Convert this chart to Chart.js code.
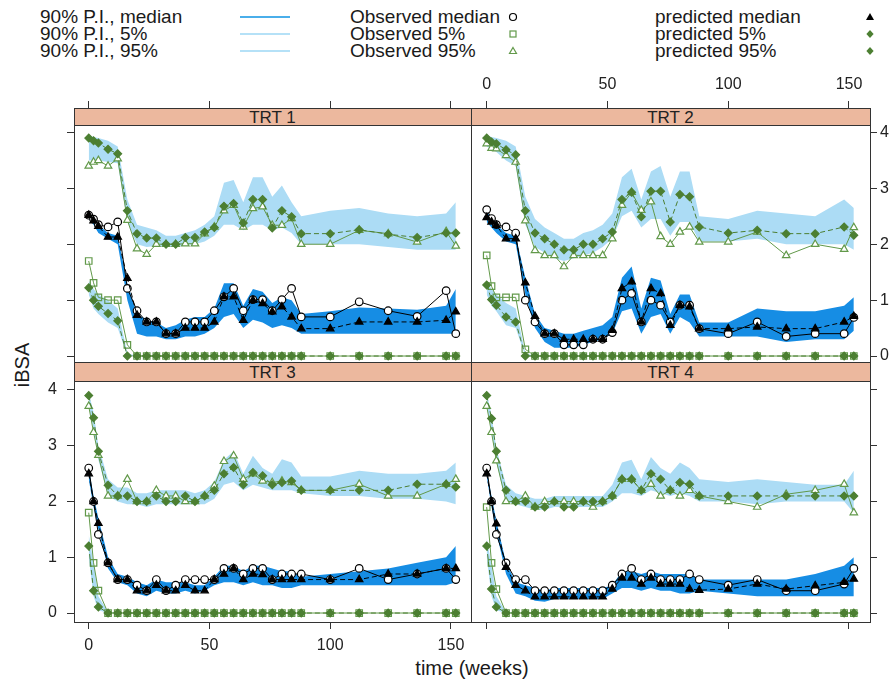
<!DOCTYPE html>
<html>
<head>
<meta charset="utf-8">
<title>iBSA VPC by treatment</title>
<script src="https://cdn.jsdelivr.net/npm/chart.js@4.4.1/dist/chart.umd.min.js"></script>
<style>
  body { margin: 0; background: #fff; }
  #wrap { position: relative; width: 895px; height: 690px; overflow: hidden;
          font-family: "Liberation Sans", Arial, sans-serif; color: #1a1a1a; }
  canvas { position: absolute; left: 0; top: 0; z-index: 2; }
  .strip { position: absolute; background: #ecb89e; border-bottom: 1px solid #333;
           text-align: center; font-size: 17px; overflow: hidden; z-index: 1; color: #222; }
  .key { position: absolute; font-size: 19px; line-height: 20px; white-space: nowrap; }
  #keySym { position: absolute; left: 0; top: 0; z-index: 1; }
  .axTitle { position: absolute; font-size: 20px; white-space: nowrap; }
</style>
</head>
<body>
<div id="wrap">
  <svg id="keySym" width="895" height="66"></svg>

  <div class="key" style="left:40px;top:7px">90% P.I., median</div>
  <div class="key" style="left:40px;top:24px">90% P.I., 5%</div>
  <div class="key" style="left:40px;top:41px">90% P.I., 95%</div>
  <div class="key" style="left:350px;top:7px">Observed median</div>
  <div class="key" style="left:350px;top:24px">Observed 5%</div>
  <div class="key" style="left:350px;top:41px">Observed 95%</div>
  <div class="key" style="left:655px;top:7px">predicted median</div>
  <div class="key" style="left:655px;top:24px">predicted 5%</div>
  <div class="key" style="left:655px;top:41px">predicted 95%</div>

  <div class="strip" style="left:74px;top:109px;width:397px;height:16px;line-height:18px">TRT 1</div>
  <div class="strip" style="left:471px;top:109px;width:399px;height:16px;line-height:18px">TRT 2</div>
  <div class="strip" style="left:74px;top:363px;width:397px;height:18px;line-height:20px">TRT 3</div>
  <div class="strip" style="left:471px;top:363px;width:399px;height:18px;line-height:20px">TRT 4</div>

  <div class="axTitle" style="left:22px;top:365px;transform:translate(-50%,-50%) rotate(-90deg)">iBSA</div>
  <div class="axTitle" style="left:472px;top:668px;transform:translate(-50%,-50%)">time (weeks)</div>

  <canvas id="c1" width="895" height="690"></canvas>
  <canvas id="c2" width="895" height="690"></canvas>
  <canvas id="c3" width="895" height="690"></canvas>
  <canvas id="c4" width="895" height="690"></canvas>
</div>

<script>
const weeks = [0, 2, 4, 8, 12, 16, 20, 24, 28, 32, 36, 40, 44, 48, 52, 56, 60, 64, 68, 72, 76, 80, 84, 88, 100, 112, 124, 136, 148, 152];
const xTicks = [0, 50, 100, 150];
const yTicks = [0, 1, 2, 3, 4];

// TRT 1
const trt1ObsMedian = [2.52, 2.45, 2.35, 2.31, 2.4, 1.21, 0.81, 0.61, 0.61, 0.4, 0.4, 0.61, 0.61, 0.61, 0.81, 1.06, 1.21, 0.81, 1.01, 1.01, 0.81, 1.01, 1.21, 0.7, 0.7, 0.97, 0.81, 0.71, 1.17, 0.4];
const trt1Obs5 = [1.7, 1.31, 1.05, 1.0, 1.0, 0.2, 0, 0, 0, 0, 0, 0, 0, 0, 0, 0, 0, 0, 0, 0, 0, 0, 0, 0, 0, 0, 0, 0, 0, 0];
const trt1Obs95 = [3.4, 3.47, 3.5, 3.4, 3.53, 2.43, 1.92, 1.82, 2.0, 2.0, 2.0, 2.01, 2.01, 2.19, 2.31, 2.6, 2.7, 2.31, 2.64, 2.67, 2.34, 2.34, 2.46, 2.0, 2.0, 2.25, 2.19, 2.04, 2.23, 1.97];
const trt1PredMedian = [2.52, 2.42, 2.32, 2.13, 2.13, 1.39, 0.73, 0.61, 0.61, 0.4, 0.4, 0.5, 0.5, 0.5, 0.61, 1.06, 1.06, 0.64, 1.0, 0.94, 0.79, 0.88, 0.7, 0.49, 0.49, 0.61, 0.61, 0.61, 0.64, 0.79];
const trt1Pred5 = [1.22, 1.0, 0.89, 0.76, 0.63, 0, 0, 0, 0, 0, 0, 0, 0, 0, 0, 0, 0, 0, 0, 0, 0, 0, 0, 0, 0, 0, 0, 0, 0, 0];
const trt1Pred95 = [3.9, 3.85, 3.81, 3.7, 3.62, 2.6, 2.19, 2.11, 2.11, 2.0, 2.0, 2.12, 2.12, 2.22, 2.3, 2.68, 2.73, 2.38, 2.8, 2.8, 2.29, 2.6, 2.49, 2.19, 2.19, 2.26, 2.18, 2.12, 2.2, 2.2];
const trt1PiMedHi = [2.55, 2.48, 2.35, 2.2, 2.15, 1.3, 0.75, 0.65, 0.6, 0.5, 0.55, 0.65, 0.7, 0.7, 0.85, 1.3, 1.3, 0.9, 1.2, 1.15, 0.95, 1.05, 1.0, 0.75, 0.8, 0.87, 0.85, 0.83, 0.9, 1.2];
const trt1PiMedLo = [2.45, 2.35, 2.2, 2.1, 2.0, 1.0, 0.4, 0.35, 0.35, 0.3, 0.3, 0.35, 0.35, 0.4, 0.5, 0.7, 0.75, 0.5, 0.65, 0.6, 0.5, 0.55, 0.5, 0.4, 0.4, 0.4, 0.4, 0.4, 0.4, 0.4];
const trt1Pi5Hi = [1.35, 1.2, 1.1, 1.0, 0.85, 0.05, 0, 0, 0, 0, 0, 0, 0, 0, 0, 0, 0, 0, 0, 0, 0, 0, 0, 0, 0, 0, 0, 0, 0, 0];
const trt1Pi5Lo = [1.1, 0.85, 0.75, 0.6, 0.5, 0, 0, 0, 0, 0, 0, 0, 0, 0, 0, 0, 0, 0, 0, 0, 0, 0, 0, 0, 0, 0, 0, 0, 0, 0];
const trt1Pi95Hi = [3.95, 3.92, 3.9, 3.85, 3.75, 2.8, 2.35, 2.3, 2.25, 2.15, 2.15, 2.2, 2.25, 2.35, 2.5, 3.1, 3.15, 2.75, 3.2, 3.2, 2.85, 3.05, 2.75, 2.5, 2.6, 2.65, 2.55, 2.5, 2.55, 2.75];
const trt1Pi95Lo = [3.5, 3.5, 3.5, 3.47, 3.45, 2.4, 2.0, 1.95, 1.97, 1.95, 1.95, 1.98, 2.0, 2.05, 2.15, 2.35, 2.35, 2.25, 2.35, 2.35, 2.25, 2.3, 2.2, 2.0, 2.0, 2.0, 1.95, 1.9, 1.9, 1.9];

// TRT 2
const trt2ObsMedian = [2.62, 2.46, 2.35, 2.31, 2.2, 1.0, 0.61, 0.4, 0.4, 0.2, 0.2, 0.2, 0.3, 0.3, 0.42, 1.0, 1.12, 0.61, 1.0, 0.91, 0.61, 0.91, 0.91, 0.49, 0.4, 0.61, 0.35, 0.4, 0.4, 0.69];
const trt2Obs5 = [1.8, 1.25, 1.05, 1.05, 1.05, 0.12, 0, 0, 0, 0, 0, 0, 0, 0, 0, 0, 0, 0, 0, 0, 0, 0, 0, 0, 0, 0, 0, 0, 0, 0];
const trt2Obs95 = [3.8, 3.72, 3.71, 3.59, 3.47, 2.42, 1.89, 1.8, 1.8, 1.6, 1.8, 1.8, 1.8, 1.8, 2.1, 2.7, 2.93, 2.61, 2.76, 2.14, 2.0, 2.22, 2.31, 2.04, 2.04, 2.22, 1.8, 2.0, 1.91, 2.3];
const trt2PredMedian = [2.48, 2.4, 2.34, 2.1, 2.1, 1.31, 0.71, 0.4, 0.4, 0.3, 0.3, 0.3, 0.3, 0.3, 0.46, 1.21, 1.33, 0.61, 1.21, 1.12, 0.55, 0.91, 0.88, 0.49, 0.49, 0.52, 0.49, 0.49, 0.61, 0.71];
const trt2Pred5 = [1.27, 1.01, 0.91, 0.7, 0.61, 0, 0, 0, 0, 0, 0, 0, 0, 0, 0, 0, 0, 0, 0, 0, 0, 0, 0, 0, 0, 0, 0, 0, 0, 0];
const trt2Pred95 = [3.9, 3.83, 3.8, 3.69, 3.6, 2.6, 2.2, 2.1, 2.0, 1.9, 1.9, 2.0, 2.0, 2.1, 2.22, 2.8, 2.93, 2.49, 2.95, 2.95, 2.4, 2.89, 2.85, 2.31, 2.2, 2.25, 2.19, 2.19, 2.31, 2.16];
const trt2PiMedHi = [2.6, 2.45, 2.35, 2.2, 2.15, 1.4, 0.75, 0.5, 0.45, 0.4, 0.4, 0.45, 0.5, 0.55, 0.7, 1.4, 1.6, 0.85, 1.4, 1.35, 0.75, 1.1, 1.1, 0.6, 0.6, 0.85, 0.8, 0.8, 0.9, 1.05];
const trt2PiMedLo = [2.4, 2.3, 2.2, 2.05, 2.0, 1.1, 0.5, 0.25, 0.15, 0.15, 0.15, 0.2, 0.25, 0.3, 0.4, 0.8, 0.85, 0.4, 0.7, 0.75, 0.4, 0.7, 0.6, 0.35, 0.35, 0.35, 0.25, 0.3, 0.3, 0.45];
const trt2Pi5Hi = [1.35, 1.2, 1.1, 0.95, 0.85, 0.05, 0, 0, 0, 0, 0, 0, 0, 0, 0, 0, 0, 0, 0, 0, 0, 0, 0, 0, 0, 0, 0, 0, 0, 0];
const trt2Pi5Lo = [1.1, 0.9, 0.8, 0.55, 0.5, 0, 0, 0, 0, 0, 0, 0, 0, 0, 0, 0, 0, 0, 0, 0, 0, 0, 0, 0, 0, 0, 0, 0, 0, 0];
const trt2Pi95Hi = [3.95, 3.92, 3.9, 3.85, 3.75, 2.85, 2.45, 2.3, 2.2, 2.1, 2.1, 2.2, 2.25, 2.35, 2.55, 3.2, 3.35, 2.8, 3.3, 3.4, 2.85, 3.3, 3.3, 2.5, 2.45, 2.6, 2.55, 2.5, 2.8, 2.65];
const trt2Pi95Lo = [3.75, 3.7, 3.65, 3.5, 3.4, 2.35, 1.95, 1.85, 1.75, 1.7, 1.75, 1.8, 1.85, 1.95, 2.1, 2.5, 2.6, 2.3, 2.45, 2.45, 2.15, 2.4, 2.4, 2.05, 2.05, 2.1, 2.0, 2.0, 2.0, 1.9];

// TRT 3
const trt3ObsMedian = [2.6, 2.0, 1.41, 0.9, 0.6, 0.6, 0.5, 0.4, 0.6, 0.4, 0.5, 0.6, 0.6, 0.6, 0.6, 0.8, 0.8, 0.7, 0.8, 0.8, 0.6, 0.7, 0.7, 0.7, 0.6, 0.8, 0.6, 0.7, 0.8, 0.6];
const trt3Obs5 = [1.8, 0.9, 0.4, 0, 0, 0, 0, 0, 0, 0, 0, 0, 0, 0, 0, 0, 0, 0, 0, 0, 0, 0, 0, 0, 0, 0, 0, 0, 0, 0];
const trt3Obs95 = [3.71, 3.24, 2.83, 2.1, 2.1, 2.4, 2.0, 2.0, 2.2, 2.1, 2.1, 2.0, 2.0, 2.1, 2.28, 2.72, 2.82, 2.4, 2.5, 2.37, 2.34, 2.37, 2.34, 2.2, 2.2, 2.31, 2.1, 2.1, 2.31, 2.4];
const trt3PredMedian = [2.5, 2.0, 1.61, 0.9, 0.6, 0.6, 0.4, 0.4, 0.5, 0.4, 0.4, 0.5, 0.4, 0.4, 0.6, 0.7, 0.8, 0.6, 0.7, 0.69, 0.6, 0.6, 0.6, 0.6, 0.6, 0.6, 0.7, 0.7, 0.8, 0.8];
const trt3Pred5 = [1.2, 0.4, 0.11, 0, 0, 0, 0, 0, 0, 0, 0, 0, 0, 0, 0, 0, 0, 0, 0, 0, 0, 0, 0, 0, 0, 0, 0, 0, 0, 0];
const trt3Pred95 = [3.9, 3.5, 2.9, 2.29, 2.1, 2.1, 2.0, 2.0, 2.1, 2.0, 2.0, 2.1, 2.0, 2.1, 2.2, 2.5, 2.61, 2.3, 2.52, 2.46, 2.3, 2.34, 2.37, 2.2, 2.2, 2.2, 2.2, 2.31, 2.31, 2.26];
const trt3PiMedHi = [2.6, 2.1, 1.7, 1.0, 0.7, 0.65, 0.55, 0.5, 0.6, 0.55, 0.55, 0.55, 0.5, 0.5, 0.65, 0.85, 0.85, 0.75, 0.85, 0.85, 0.8, 0.75, 0.75, 0.65, 0.7, 0.75, 0.8, 0.9, 1.0, 1.2];
const trt3PiMedLo = [2.4, 1.9, 1.5, 0.8, 0.55, 0.5, 0.35, 0.3, 0.4, 0.35, 0.35, 0.4, 0.35, 0.4, 0.5, 0.55, 0.55, 0.5, 0.55, 0.5, 0.5, 0.45, 0.45, 0.5, 0.5, 0.5, 0.5, 0.5, 0.5, 0.55];
const trt3Pi5Hi = [1.4, 0.9, 0.3, 0.02, 0, 0, 0, 0, 0, 0, 0, 0, 0, 0, 0, 0, 0, 0, 0, 0, 0, 0, 0, 0, 0, 0, 0, 0, 0, 0];
const trt3Pi5Lo = [1.0, 0.3, 0.05, 0, 0, 0, 0, 0, 0, 0, 0, 0, 0, 0, 0, 0, 0, 0, 0, 0, 0, 0, 0, 0, 0, 0, 0, 0, 0, 0];
const trt3Pi95Hi = [3.95, 3.6, 3.0, 2.4, 2.25, 2.25, 2.15, 2.15, 2.2, 2.2, 2.2, 2.2, 2.15, 2.2, 2.35, 2.75, 2.9, 2.5, 2.82, 2.6, 2.5, 2.76, 2.7, 2.45, 2.45, 2.55, 2.5, 2.5, 2.55, 2.7];
const trt3Pi95Lo = [3.7, 3.3, 2.75, 2.1, 2.0, 1.95, 1.95, 1.9, 1.95, 1.95, 1.95, 1.95, 1.95, 1.95, 2.05, 2.3, 2.35, 2.2, 2.3, 2.25, 2.2, 2.2, 2.2, 2.15, 2.1, 2.1, 2.05, 2.05, 2.0, 1.95];

// TRT 4
const trt4ObsMedian = [2.6, 2.0, 1.41, 0.9, 0.6, 0.6, 0.4, 0.4, 0.4, 0.4, 0.4, 0.4, 0.4, 0.4, 0.5, 0.7, 0.8, 0.6, 0.7, 0.6, 0.6, 0.6, 0.7, 0.6, 0.5, 0.6, 0.4, 0.4, 0.52, 0.8];
const trt4Obs5 = [1.9, 0.9, 0.43, 0, 0, 0, 0, 0, 0, 0, 0, 0, 0, 0, 0, 0, 0, 0, 0, 0, 0, 0, 0, 0, 0, 0, 0, 0, 0, 0];
const trt4Obs95 = [3.71, 3.24, 2.73, 2.0, 2.0, 2.1, 1.9, 2.0, 2.0, 2.0, 2.0, 2.0, 1.9, 2.0, 2.1, 2.4, 2.4, 2.2, 2.31, 2.1, 2.2, 2.1, 2.2, 2.1, 2.0, 1.9, 2.13, 2.2, 2.31, 1.8];
const trt4PredMedian = [2.5, 2.0, 1.6, 0.82, 0.5, 0.4, 0.29, 0.29, 0.29, 0.29, 0.29, 0.29, 0.29, 0.29, 0.43, 0.63, 0.63, 0.52, 0.63, 0.52, 0.52, 0.52, 0.43, 0.41, 0.43, 0.52, 0.43, 0.49, 0.55, 0.61];
const trt4Pred5 = [1.2, 0.43, 0.11, 0, 0, 0, 0, 0, 0, 0, 0, 0, 0, 0, 0, 0, 0, 0, 0, 0, 0, 0, 0, 0, 0, 0, 0, 0, 0, 0];
const trt4Pred95 = [3.9, 3.49, 2.9, 2.2, 2.0, 2.0, 1.9, 1.9, 2.0, 1.9, 1.9, 2.0, 2.0, 2.0, 2.1, 2.4, 2.4, 2.2, 2.5, 2.4, 2.2, 2.34, 2.31, 2.1, 2.1, 2.1, 2.1, 2.1, 2.1, 2.1];
const trt4PiMedHi = [2.55, 2.1, 1.65, 0.9, 0.55, 0.5, 0.45, 0.4, 0.45, 0.45, 0.45, 0.45, 0.45, 0.45, 0.5, 0.75, 0.75, 0.7, 0.75, 0.7, 0.7, 0.7, 0.7, 0.6, 0.6, 0.6, 0.6, 0.7, 0.85, 1.0];
const trt4PiMedLo = [2.45, 1.9, 1.45, 0.7, 0.35, 0.3, 0.22, 0.2, 0.25, 0.25, 0.25, 0.25, 0.25, 0.25, 0.35, 0.45, 0.45, 0.4, 0.45, 0.4, 0.4, 0.35, 0.35, 0.4, 0.35, 0.3, 0.3, 0.3, 0.3, 0.3];
const trt4Pi5Hi = [1.35, 0.85, 0.3, 0.02, 0, 0, 0, 0, 0, 0, 0, 0, 0, 0, 0, 0, 0, 0, 0, 0, 0, 0, 0, 0, 0, 0, 0, 0, 0, 0];
const trt4Pi5Lo = [1.0, 0.3, 0.05, 0, 0, 0, 0, 0, 0, 0, 0, 0, 0, 0, 0, 0, 0, 0, 0, 0, 0, 0, 0, 0, 0, 0, 0, 0, 0, 0];
const trt4Pi95Hi = [3.95, 3.55, 2.95, 2.3, 2.15, 2.1, 2.05, 2.05, 2.1, 2.1, 2.1, 2.1, 2.1, 2.1, 2.3, 2.7, 2.75, 2.4, 2.8, 2.6, 2.5, 2.7, 2.6, 2.4, 2.35, 2.4, 2.35, 2.3, 2.3, 2.55];
const trt4Pi95Lo = [3.7, 3.3, 2.7, 2.0, 1.95, 1.9, 1.85, 1.85, 1.9, 1.9, 1.9, 1.9, 1.9, 1.9, 2.0, 2.15, 2.15, 2.1, 2.2, 2.15, 2.1, 2.15, 2.1, 2.0, 2.0, 1.95, 2.0, 2.0, 2.0, 1.8];

const darkBlue = "#168de4";
const lightBlue = "#acdcf5";
const predGreen = "#4c7f32";
const obsGreen = "#62994a";
const frameColor = "#333";
const tickFont = { family: "Liberation Sans", size: 16 };

// plot area of each column / row, in page pixels, with the value range it covers
const columns = [
  { left: 74, right: 471, min: -6.1, max: 158.3 },
  { left: 471, right: 870, min: -6.5, max: 158.7 }
];
const rows = [
  { top: 108, bottom: 362, min: -0.107, max: 4.438 },
  { top: 362, bottom: 622, min: -0.161, max: 4.502 }
];

const panels = [
  { id: "c1", col: 0, row: 0, axes: { left: "ticks", top: "ticks", right: "none", bottom: "none" },
    obsMedian: trt1ObsMedian, obs5: trt1Obs5, obs95: trt1Obs95,
    predMedian: trt1PredMedian, pred5: trt1Pred5, pred95: trt1Pred95,
    piMed: [trt1PiMedHi, trt1PiMedLo], pi5: [trt1Pi5Hi, trt1Pi5Lo], pi95: [trt1Pi95Hi, trt1Pi95Lo] },
  { id: "c2", col: 1, row: 0, axes: { left: "none", top: "labels", right: "labels", bottom: "none" },
    obsMedian: trt2ObsMedian, obs5: trt2Obs5, obs95: trt2Obs95,
    predMedian: trt2PredMedian, pred5: trt2Pred5, pred95: trt2Pred95,
    piMed: [trt2PiMedHi, trt2PiMedLo], pi5: [trt2Pi5Hi, trt2Pi5Lo], pi95: [trt2Pi95Hi, trt2Pi95Lo] },
  { id: "c3", col: 0, row: 1, axes: { left: "labels", top: "none", right: "none", bottom: "labels" },
    obsMedian: trt3ObsMedian, obs5: trt3Obs5, obs95: trt3Obs95,
    predMedian: trt3PredMedian, pred5: trt3Pred5, pred95: trt3Pred95,
    piMed: [trt3PiMedHi, trt3PiMedLo], pi5: [trt3Pi5Hi, trt3Pi5Lo], pi95: [trt3Pi95Hi, trt3Pi95Lo] },
  { id: "c4", col: 1, row: 1, axes: { left: "none", top: "none", right: "ticks", bottom: "ticks" },
    obsMedian: trt4ObsMedian, obs5: trt4Obs5, obs95: trt4Obs95,
    predMedian: trt4PredMedian, pred5: trt4Pred5, pred95: trt4Pred95,
    piMed: [trt4PiMedHi, trt4PiMedLo], pi5: [trt4Pi5Hi, trt4Pi5Lo], pi95: [trt4Pi95Hi, trt4Pi95Lo] }
];

function pts(arr) {
  return weeks.map((w, i) => ({ x: w, y: arr[i] }));
}

function band(pair, color) {
  return [
    { data: pts(pair[0]), borderColor: "rgba(0,0,0,0)", borderWidth: 0, pointRadius: 0, fill: false, order: 30 },
    { data: pts(pair[1]), borderColor: "rgba(0,0,0,0)", borderWidth: 0, pointRadius: 0, fill: "-1", backgroundColor: color, order: 30 }
  ];
}

function series(arr, color, shape, radius, fillColor, dashed, order) {
  return {
    data: pts(arr),
    borderColor: color,
    borderWidth: 1,
    borderDash: dashed ? [5, 3] : [],
    pointStyle: shape,
    pointRadius: radius,
    pointBorderColor: color,
    pointBackgroundColor: fillColor,
    pointBorderWidth: 1.2,
    fill: false,
    tension: 0,
    order: order
  };
}

function axis(pos, kind, min, max, ticks, size) {
  const vertical = pos === "left" || pos === "right";
  return {
    type: "linear",
    position: pos,
    min: min,
    max: max,
    afterBuildTicks: function (s) {
      s.ticks = ticks.map((v) => ({ value: v }));
    },
    afterFit: function (s) {
      if (vertical) s.width = size;
      else s.height = size;
    },
    grid: {
      display: kind !== "none",
      drawOnChartArea: false,
      drawTicks: kind !== "none",
      tickLength: 7,
      color: frameColor
    },
    border: { display: true, color: frameColor, width: 1 },
    ticks: {
      display: kind === "labels",
      padding: vertical ? (pos === "left" ? 10 : 3) : 7,
      font: tickFont,
      color: "#222",
      maxRotation: 0,
      autoSkip: false
    }
  };
}

panels.forEach(function (p) {
  const c = columns[p.col];
  const r = rows[p.row];
  const ctx = document.getElementById(p.id).getContext("2d");

  const datasets = []
    .concat(band(p.pi95, lightBlue))
    .concat(band(p.pi5, lightBlue))
    .concat(band(p.piMed, darkBlue))
    .concat([
      series(p.obs5, obsGreen, "rect", 4.6, "rgba(0,0,0,0)", false, 6),
      series(p.obs95, obsGreen, "triangle", 4.3, "#fff", false, 5),
      series(p.obsMedian, "#000", "circle", 3.8, "#fff", false, 4),
      series(p.pred5, predGreen, "rectRot", 3.9, predGreen, true, 3),
      series(p.pred95, predGreen, "rectRot", 3.9, predGreen, true, 2),
      series(p.predMedian, "#000", "triangle", 4.3, "#000", true, 1)
    ]);

  new Chart(ctx, {
    type: "line",
    data: { datasets: datasets },
    options: {
      responsive: false,
      devicePixelRatio: 1,
      animation: false,
      events: [],
      layout: { padding: 0 },
      plugins: {
        legend: { display: false },
        tooltip: { enabled: false },
        filler: { drawTime: "beforeDatasetsDraw" }
      },
      scales: {
        x: axis("bottom", p.axes.bottom, c.min, c.max, xTicks, 690 - r.bottom),
        x2: axis("top", p.axes.top, c.min, c.max, xTicks, r.top),
        y: axis("left", p.axes.left, r.min, r.max, yTicks, c.left),
        y2: axis("right", p.axes.right, r.min, r.max, yTicks, 895 - c.right)
      }
    }
  });
});

// key symbols
const svg = document.getElementById("keySym");
const NS = "http://www.w3.org/2000/svg";
function el(tag, attrs) {
  const e = document.createElementNS(NS, tag);
  for (const k in attrs) e.setAttribute(k, attrs[k]);
  svg.appendChild(e);
}
el("line", { x1: 240, y1: 17, x2: 290, y2: 17, stroke: "#4aaeea", "stroke-width": 2 });
el("line", { x1: 240, y1: 34, x2: 290, y2: 34, stroke: "#b5e1f7", "stroke-width": 2 });
el("line", { x1: 240, y1: 51, x2: 290, y2: 51, stroke: "#b5e1f7", "stroke-width": 2 });
el("circle", { cx: 513, cy: 17, r: 3.5, fill: "none", stroke: "#000", "stroke-width": 1.2 });
el("rect", { x: 510, y: 31, width: 6, height: 6, fill: "none", stroke: obsGreen, "stroke-width": 1.2 });
el("polygon", { points: "513,47.5 516.5,53.5 509.5,53.5", fill: "none", stroke: obsGreen, "stroke-width": 1.2 });
el("polygon", { points: "870,13 874,20 866,20", fill: "#000" });
el("polygon", { points: "870,30 873.6,34 870,38 866.4,34", fill: predGreen });
el("polygon", { points: "870,47 873.6,51 870,55 866.4,51", fill: predGreen });
</script>
</body>
</html>
